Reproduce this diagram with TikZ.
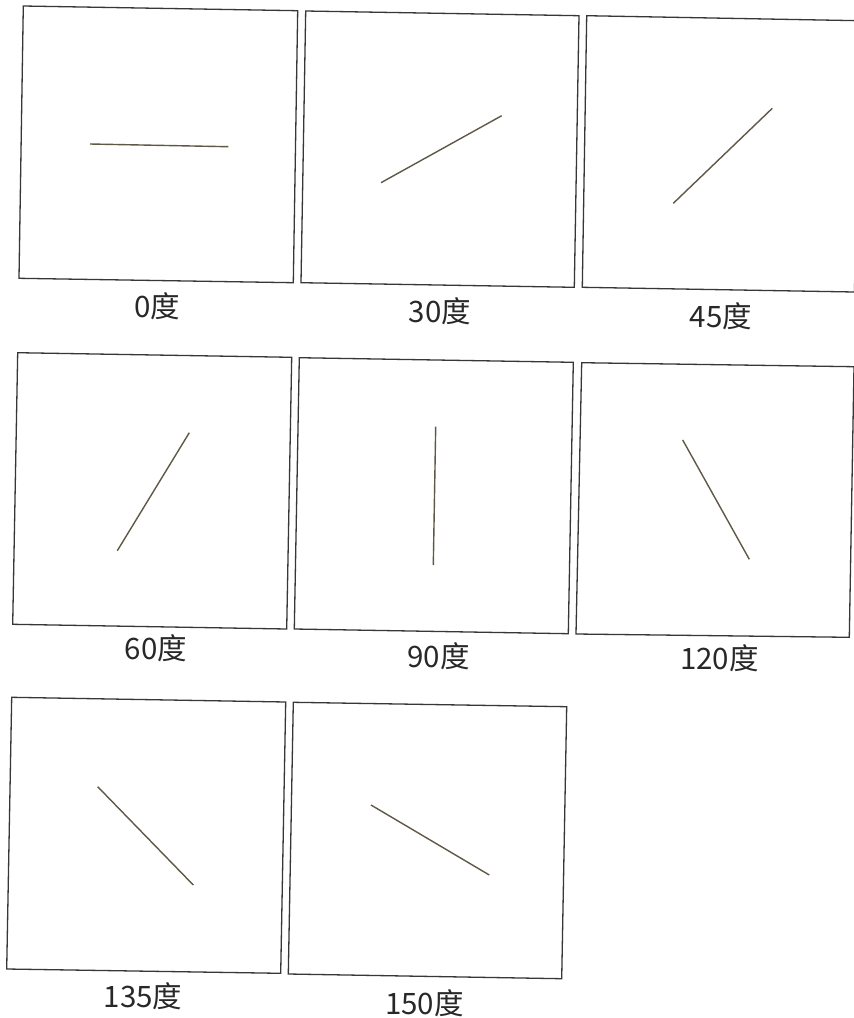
\documentclass[tikz,border=0pt]{standalone}
\usepackage{fontspec}
\setmainfont{Noto Sans CJK SC}
\definecolor{frameink}{RGB}{55,55,55}
\definecolor{barink}{RGB}{95,88,70}
\definecolor{textink}{RGB}{40,40,40}
\tikzset{
  panel/.style={draw=frameink, line width=1.3pt, line join=miter},
  bar/.style={draw=barink, line width=1.4pt},
  angle label/.style={text=textink, font=\fontsize{29.5}{31}\selectfont, inner sep=0pt}
}
\begin{document}
\begin{tikzpicture}[x=1pt, y=-1pt]
    % Page
    \useasboundingbox (0,0) rectangle (854,1018);
    \clip (0,0) rectangle (854,1018);
    \fill[white] (0,0) rectangle (854,1018);
    % Row 1
    \draw[panel] (23.3,6) -- (297.7,10.7) -- (293.3,282.7) -- (19,278.3) -- cycle;
    \draw[bar] (90,144) -- (228.3,146.7);
    \node[angle label] (lbl0) at (157,306) {0度};
    \draw[panel] (305.7,11) -- (579,15.7) -- (574.3,287.3) -- (301,282.7) -- cycle;
    \draw[bar] (381,182.7) -- (501.7,115.7);
    \node[angle label] (lbl30) at (440,311.5) {30度};
    \draw[panel] (586.7,15.7) -- (859,20.7) -- (854.5,292) -- (582.3,287.3) -- cycle;
    \draw[bar] (673.3,203.3) -- (772.3,108.3);
    \node[angle label] (lbl45) at (721,316.5) {45度};
    % Row 2
    \draw[panel] (17.7,352.7) -- (291.7,357.3) -- (286.7,629) -- (12.7,624.3) -- cycle;
    \draw[bar] (117.3,550.7) -- (189.3,432.7);
    \node[angle label] (lbl60) at (156,648.5) {60度};
    \draw[panel] (299.3,357.7) -- (573.3,362.3) -- (568.3,633.7) -- (294.3,629) -- cycle;
    \draw[bar] (435.7,426.7) -- (433.3,565);
    \node[angle label] (lbl90) at (438.5,656.5) {90度};
    \draw[panel] (581.7,362.7) -- (854,366.7) -- (849.3,637.3) -- (576,634) -- cycle;
    \draw[bar] (682.7,440) -- (749.3,559.3);
    \node[angle label] (lbl120) at (719.5,658.5) {120度};
    % Row 3
    \draw[panel] (11.7,697.3) -- (285.7,702) -- (280.7,973.3) -- (6.7,969) -- cycle;
    \draw[bar] (97.7,786.7) -- (193.3,885);
    \node[angle label] (lbl135) at (143,996.5) {135度};
    \draw[panel] (293.3,702.3) -- (566.7,706.7) -- (561.7,978.7) -- (288.3,974) -- cycle;
    \draw[bar] (371,805) -- (489.3,875);
    \node[angle label] (lbl150) at (424.5,1003) {150度};
\end{tikzpicture}
\end{document}
